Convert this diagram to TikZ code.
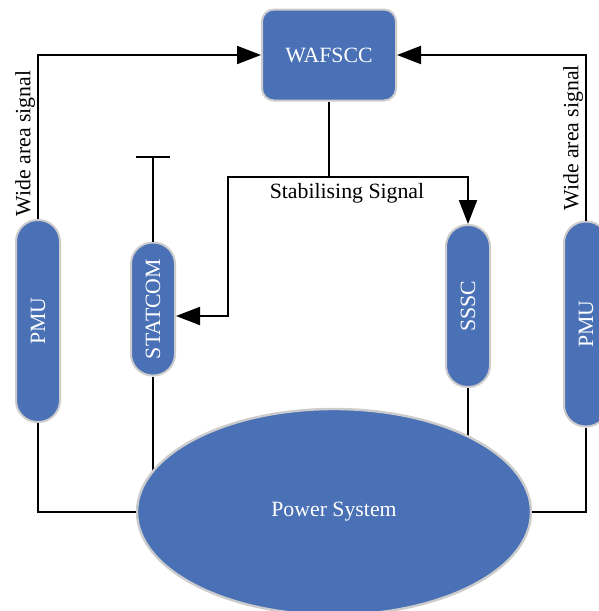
\documentclass[tikz,border=0pt]{standalone}
\usepackage{fontspec}
\setmainfont{Liberation Serif}
\usetikzlibrary{arrows.meta,shapes.geometric,backgrounds}
\definecolor{boxblue}{HTML}{4A70B6}
\definecolor{rimgray}{HTML}{CCCCCC}
\tikzstyle{blk} = [rectangle, draw=rimgray, fill=boxblue, text=white,
    line width=1pt, inner sep=0pt]
\tikzstyle{bt} = [blk, minimum width=67pt, minimum height=45.5pt, rounded corners=6pt]
\tikzstyle{pill} = [blk, minimum width=22pt, rounded corners=10.8pt]
\tikzstyle{sys} = [ellipse, draw=rimgray, fill=boxblue, text=white,
    line width=1.2pt, minimum width=197pt, minimum height=103pt]
\tikzstyle{sig} = [rotate=90, anchor=south, inner sep=1pt]
\tikzstyle{wire} = [draw, black, line width=1pt]

\begin{document}
\begin{tikzpicture}[x=0.5pt,y=-0.5pt,line width=1pt,
                    >={Triangle[length=12pt,width=9pt]},
                    font=\fontsize{10.9}{13}\selectfont]
  \useasboundingbox (0,0) rectangle (599,611);

  \node[bt]   (wafscc)  at (329,55)   {WAFSCC};
  \node[pill,minimum height=101pt]   (pmuL)    at (38,321)  {\rotatebox{90}{PMU}};
  \node[pill,minimum height=66.5pt]  (statcom) at (153,309) {\rotatebox{90}{STATCOM}};
  \node[pill,minimum height=81pt]    (sssc)    at (468,306) {\rotatebox{90}{SSSC}};
  \node[pill,minimum height=102.5pt] (pmuR)    at (586,324) {\rotatebox{90}{PMU}};
  \node[sys]  (psys)    at (334,512)  {Power System};

  \coordinate (split) at (329,177);
  \coordinate (bend)  at (228,316);
  \coordinate (tbar)  at (153,156);
  \node (stab) at (347,193) {Stabilising Signal};

  % measurements up to the controller
  \draw[->] (pmuL.north) |- (wafscc.west) node[sig,pos=0.23] {Wide area signal};
  \draw[->] (pmuR.north) |- (wafscc.east) node[sig,pos=0.25] {Wide area signal};

  % control signal down to the devices
  \draw (wafscc) -- (split);
  \draw[->] (split) -| (sssc.north);
  \draw[->] (split) -| (bend) -- (statcom.east |- bend);
  \draw[-{Bar[width=17pt]}] (statcom) -- (tbar);

  % ties to the grid
  \draw (pmuL.south) |- (psys.west);
  \draw (pmuR.south) |- (psys.east);
  \begin{pgfonlayer}{background}
    \path[wire] (statcom.south) -- (statcom.south |- psys.center);
    \path[wire] (sssc.south) -- (sssc.south |- psys.center);
  \end{pgfonlayer}
\end{tikzpicture}
\end{document}
